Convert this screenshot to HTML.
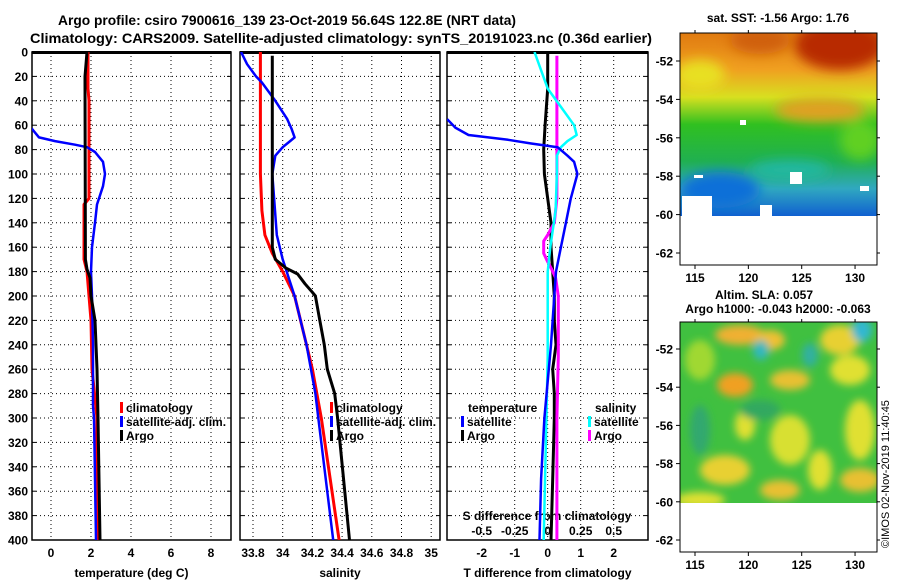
<!DOCTYPE html>
<html><head><meta charset="utf-8"><style>
html,body{margin:0;padding:0;background:#fff;}
svg{display:block;font-family:"Liberation Sans",Arial,sans-serif;font-weight:bold;}
</style></head><body>
<svg id="chart" width="900" height="580" viewBox="0 0 900 580" xmlns="http://www.w3.org/2000/svg">
<defs>
<filter id="blur1" x="-20%" y="-20%" width="140%" height="140%"><feGaussianBlur stdDeviation="6"/></filter>
<filter id="blur2" x="-20%" y="-20%" width="140%" height="140%"><feGaussianBlur stdDeviation="4"/></filter>
<clipPath id="cm1"><rect x="680" y="33" width="197" height="183"/></clipPath>
<clipPath id="cm2"><rect x="680" y="322" width="197" height="181"/></clipPath>
<clipPath id="cp1"><rect x="32" y="52" width="199" height="488"/></clipPath>
<clipPath id="cp2"><rect x="240" y="52" width="200" height="488"/></clipPath>
<clipPath id="cp3"><rect x="447" y="52" width="201" height="488"/></clipPath>
</defs>
<text x="58" y="25" font-size="13.5" textLength="458" lengthAdjust="spacingAndGlyphs">Argo profile: csiro 7900616_139 23-Oct-2019 56.64S 122.8E (NRT data)</text>
<text x="30" y="43" font-size="14" textLength="622" lengthAdjust="spacingAndGlyphs">Climatology: CARS2009. Satellite-adjusted climatology: synTS_20191023.nc (0.36d earlier)</text>
<g id="g"></g>
<text x="778" y="22" font-size="12" text-anchor="middle">sat. SST: -1.56 Argo: 1.76</text>
<text x="764" y="299" font-size="12" text-anchor="middle">Altim. SLA: 0.057</text>
<text x="778" y="313" font-size="12" text-anchor="middle">Argo h1000: -0.043 h2000: -0.063</text>
<text transform="translate(889,548) rotate(-90)" font-size="11" font-weight="normal">©IMOS 02-Nov-2019 11:40:45</text>
</svg>
<script>
// ---------- data ----------
const depthTicks = [0,20,40,60,80,100,120,140,160,180,200,220,240,260,280,300,320,340,360,380,400];
const tempTicks = [0,2,4,6,8];
const salTicks = [33.8,34,34.2,34.4,34.6,34.8,35];
const salTickLabels = ["33.8","34","34.2","34.4","34.6","34.8","35"];
const tdiffTicks = [-2,-1,0,1,2];
const sdiffTicks = [-0.5,-0.25,0,0.25,0.5];
const sdiffTickLabels = ["-0.5","-0.25","0","0.25","0.5"];

const tClimDepth = [0,30,40,120,125,170,180,200,220,260,300,350,400];
const tClimVal   = [1.85,1.85,1.9,1.9,1.65,1.65,1.8,1.9,2.0,2.05,2.3,2.3,2.35];
const tArgoDepth = [0,10,20,170,178,185,200,220,260,300,350,400];
const tArgoVal   = [1.8,1.75,1.7,1.72,1.8,1.95,2.0,2.2,2.3,2.35,2.4,2.45];
const tSatDepth  = [0,60,63,70,73,76,78,82,90,100,110,125,140,160,180,200,240,290,300,350,400];
const tSatVal    = [-3,-1.5,-0.95,-0.6,0.2,1.2,1.8,2.2,2.6,2.7,2.6,2.3,2.2,2.05,2.0,2.05,2.1,2.1,2.15,2.2,2.25];

const sClimDepth = [0,100,130,150,165,180,200,240,260,300,400];
const sClimVal   = [33.85,33.85,33.86,33.88,33.93,34.0,34.08,34.16,34.2,34.26,34.38];
const sArgoDepth = [3,160,170,177,182,190,197,200,220,240,260,280,300,400];
const sArgoVal   = [33.93,33.93,33.95,34.02,34.1,34.15,34.2,34.22,34.25,34.28,34.3,34.35,34.37,34.45];
const sSatDepth  = [0,10,20,25,40,55,63,70,73,78,85,100,150,170,200,240,280,300,400];
const sSatVal    = [33.72,33.76,33.82,33.86,33.95,34.03,34.06,34.08,34.05,34.0,33.95,33.93,33.96,34.0,34.08,34.16,34.22,34.24,34.34];

const dTSatDepth  = [55,62,68,70,72,75,78,85,90,100,120,140,160,180,200,240,300,350,400];
const dTSatVal    = [-3.05,-2.8,-2.4,-1.8,-1.2,-0.5,0.3,0.6,0.8,0.9,0.7,0.55,0.4,0.25,0.2,0.1,-0.1,-0.2,-0.25];
const dTArgoDepth = [0,30,60,80,100,120,140,160,180,200,220,240,260,280,300,350,400];
const dTArgoVal   = [0.0,0.0,-0.08,-0.12,-0.1,0.0,0.1,0.1,0.15,0.2,0.2,0.25,0.15,0.2,0.2,0.15,0.1];
const dSSatDepth  = [0,15,30,45,60,68,73,78,85,100,130,160,180,250,300,400];
const dSSatVal    = [-0.1,-0.05,0.0,0.1,0.2,0.22,0.15,0.1,0.07,0.07,0.06,0.02,0.0,0.0,-0.01,-0.03];
const dSArgoDepth = [3,120,140,150,155,165,172,178,185,200,250,300,400];
const dSArgoVal   = [0.07,0.07,0.05,0.0,-0.03,-0.03,0.0,0.03,0.06,0.08,0.08,0.07,0.07];

const latTicks = [-52,-54,-56,-58,-60,-62];
const lonTicks = [115,120,125,130];

// ---------- axes ----------
const NS="http://www.w3.org/2000/svg";
const g=document.getElementById('g');
const Y=d=>52+d*1.22;
const XT=t=>51+t*20;
const XS=s=>253+(s-33.8)*148.5;
const XD=t=>547.7+t*33;
const XSD=s=>547.7+s*132;
function el(tag,attrs,parent){const e=document.createElementNS(NS,tag);for(const k in attrs)e.setAttribute(k,attrs[k]);(parent||g).appendChild(e);return e;}
function txt(x,y,s,size,anchor,parent){const t=el('text',{x:x,y:y,'font-size':size,'text-anchor':anchor||'middle'},parent);t.textContent=s;return t;}

function panel(name,x0,x1,xticks,xlabels,xf,title){
  const p=el('g',{});
  
  
  el('rect',{x:x0,y:52,width:x1-x0,height:488,fill:'#fff',stroke:'#000','stroke-width':1.5},p);
  el('line',{x1:x0,y1:52.5,x2:x1,y2:52.5,stroke:'#000','stroke-width':3},p);
  depthTicks.forEach(d=>{
    if(d>0&&d<400){const l=el('line',{x1:x0,y1:Y(d),x2:x1,y2:Y(d),stroke:'#000','stroke-dasharray':'1,3','stroke-width':1},p);
    }
    el('line',{x1:x0,y1:Y(d),x2:x0+4,y2:Y(d),stroke:'#000'},p);
    el('line',{x1:x1-4,y1:Y(d),x2:x1,y2:Y(d),stroke:'#000'},p);
  });
  xticks.forEach((v,i)=>{
    const x=xf(v);
    el('line',{x1:x,y1:52,x2:x,y2:540,stroke:'#000','stroke-dasharray':'1,3','stroke-width':1},p);
    const t=txt(x,557,xlabels[i],12,'middle',p);
    
    
  });
  const tt=txt((x0+x1)/2,577,title,12,'middle',p);
  
  
  return p;
}
panel('temperature',32,231,tempTicks,tempTicks.map(String),XT,'temperature (deg C)');
panel('salinity',240,440,salTicks,salTickLabels,XS,'salinity');
panel('difference',447,648,tdiffTicks,tdiffTicks.map(String),XD,'T difference from climatology');
depthTicks.forEach(d=>{
  const t=txt(28,Y(d)+4.5,String(d),12,'end');
  
  
});
const sdT=txt(547,520,'S difference from climatology',12,'middle');


sdiffTicks.forEach((v,i)=>{
  const t=txt(XSD(v),535,sdiffTickLabels[i],12,'middle');
  
  
});

function line(name,depths,vals,xf,color,w,clip){
  const pts=depths.map((d,i)=>xf(vals[i]).toFixed(1)+','+Y(d).toFixed(1)).join(' ');
  const l=el('polyline',{points:pts,fill:'none',stroke:color,'stroke-width':w,'clip-path':'url(#'+clip+')','stroke-linejoin':'round'});
  
  
}
line('temp-climatology-line',tClimDepth,tClimVal,XT,'#ff0000',3,'cp1');
line('temp-satellite-adj-line',tSatDepth,tSatVal,XT,'#0000ff',2.5,'cp1');
line('temp-argo-line',tArgoDepth,tArgoVal,XT,'#000',3,'cp1');
line('sal-climatology-line',sClimDepth,sClimVal,XS,'#ff0000',3,'cp2');
line('sal-satellite-adj-line',sSatDepth,sSatVal,XS,'#0000ff',2.5,'cp2');
line('sal-argo-line',sArgoDepth,sArgoVal,XS,'#000',3,'cp2');
line('tdiff-argo-line',dTArgoDepth,dTArgoVal,XD,'#000',3,'cp3');
line('sdiff-argo-line',dSArgoDepth,dSArgoVal,XSD,'#ff00ff',3,'cp3');
line('sdiff-satellite-line',dSSatDepth,dSSatVal,XSD,'#00ffff',2.5,'cp3');
line('tdiff-satellite-line',dTSatDepth,dTSatVal,XD,'#0000ff',2.5,'cp3');

function legend(name,x,y,color,label){
  const lg=el('g',{});
  
  
  el('rect',{x:x,y:y-10,width:3,height:11,fill:color},lg);
  txt(x+6,y,label,12,'start',lg);
}
legend('legend-climatology',120,412,'#ff0000','climatology');
legend('legend-satellite-adj',120,426,'#0000ff','satellite-adj. clim.');
legend('legend-argo',120,440,'#000','Argo');
legend('legend-sal-climatology',330,412,'#ff0000','climatology');
legend('legend-sal-satellite-adj',330,426,'#0000ff','satellite-adj. clim.');
legend('legend-sal-argo',330,440,'#000','Argo');
const lt=txt(468,412,'temperature',12,'start');


legend('legend-t-satellite',461,426,'#0000ff','satellite');
legend('legend-t-argo',461,440,'#000','Argo');
const ls=txt(595,412,'salinity',12,'start');


legend('legend-s-satellite',588,426,'#00ffff','satellite');
legend('legend-s-argo',588,440,'#ff00ff','Argo');

// ---------- maps ----------
const LX=l=>695+(l-115)*10.67;
function mapFrame(name,top,bottom,latY){
  const m=el('g',{});
  
  
  el('rect',{x:680,y:top,width:197,height:bottom-top,fill:'none',stroke:'#000','stroke-width':1},m);
  latTicks.forEach(l=>{
    const y=latY(l);
    el('line',{x1:676,y1:y,x2:680,y2:y,stroke:'#000'},m);
    el('line',{x1:877,y1:y,x2:880,y2:y,stroke:'#000'},m);
    const t=txt(673,y+4.5,String(l),12,'end',m);
    
  });
  lonTicks.forEach(l=>{
    const x=LX(l);
    el('line',{x1:x,y1:bottom,x2:x,y2:bottom+4,stroke:'#000'},m);
    el('line',{x1:x,y1:top-3,x2:x,y2:top,stroke:'#000'},m);
    const t=txt(x,bottom+17,String(l),12,'middle',m);
    
  });
  return m;
}
const s1=el('g',{'clip-path':'url(#cm1)'});


const gr=el('linearGradient',{id:'sstg',x1:0,y1:0,x2:0,y2:1},s1);
[[0,'#e07a10'],[0.2,'#f0a020'],[0.35,'#d8e020'],[0.5,'#30c020'],[0.7,'#20b050'],[0.85,'#30a8c0'],[1,'#1060d0']].forEach(s=>el('stop',{offset:s[0],'stop-color':s[1]},gr));
el('rect',{x:680,y:33,width:197,height:183,fill:'url(#sstg)'},s1);
const b1=el('g',{filter:'url(#blur1)'},s1);
el('ellipse',{cx:840,cy:45,rx:45,ry:25,fill:'#b82a05'},b1);
el('ellipse',{cx:760,cy:40,rx:30,ry:14,fill:'#d06010'},b1);
el('ellipse',{cx:700,cy:75,rx:25,ry:15,fill:'#e8e020'},b1);
el('ellipse',{cx:820,cy:110,rx:45,ry:12,fill:'#e0a020'},b1);
el('ellipse',{cx:720,cy:190,rx:40,ry:18,fill:'#1070d8'},b1);
el('ellipse',{cx:790,cy:170,rx:40,ry:10,fill:'#20b8a0'},b1);
el('ellipse',{cx:860,cy:140,rx:20,ry:20,fill:'#60d020'},b1);
[[682,196,30,20],[760,205,12,11],[790,172,12,12],[740,120,6,5],[694,175,9,3],[860,186,9,5]].forEach(r=>el('rect',{x:r[0],y:r[1],width:r[2],height:r[3],fill:'#fff'},s1));
mapFrame('sst-map',33,265,l=>61+(-52-l)*19.2);
const s2=el('g',{'clip-path':'url(#cm2)'});


el('rect',{x:680,y:322,width:197,height:181,fill:'#40c040'},s2);
const b2=el('g',{filter:'url(#blur2)'},s2);
[[740,335,25,10,'#f0b030'],[770,340,15,10,'#f0c030'],[840,340,20,15,'#e8d030'],[700,360,15,20,'#a0d830'],[735,385,18,12,'#f0a020'],[790,380,20,10,'#e8c030'],[850,370,20,15,'#e0e030'],[790,440,20,25,'#d8e030'],[860,430,15,30,'#e0e030'],[725,470,25,15,'#e8d030'],[780,490,20,10,'#e8c030'],[860,480,20,12,'#e8c030'],[700,500,25,8,'#e0e030'],[820,470,12,20,'#e0e030'],[745,425,10,15,'#e0e030']].forEach(e=>el('ellipse',{cx:e[0],cy:e[1],rx:e[2],ry:e[3],fill:e[4]},b2));
[[761,350,8,10,'#30b8c0'],[810,355,8,12,'#30b0a0'],[862,330,10,12,'#30b8d0'],[700,430,10,25,'#30a870'],[760,410,20,10,'#30a860']].forEach(e=>el('ellipse',{cx:e[0],cy:e[1],rx:e[2],ry:e[3],fill:e[4]},b2));
mapFrame('sla-map',322,552,l=>349+(-52-l)*19.1);
</script>
</body></html>
